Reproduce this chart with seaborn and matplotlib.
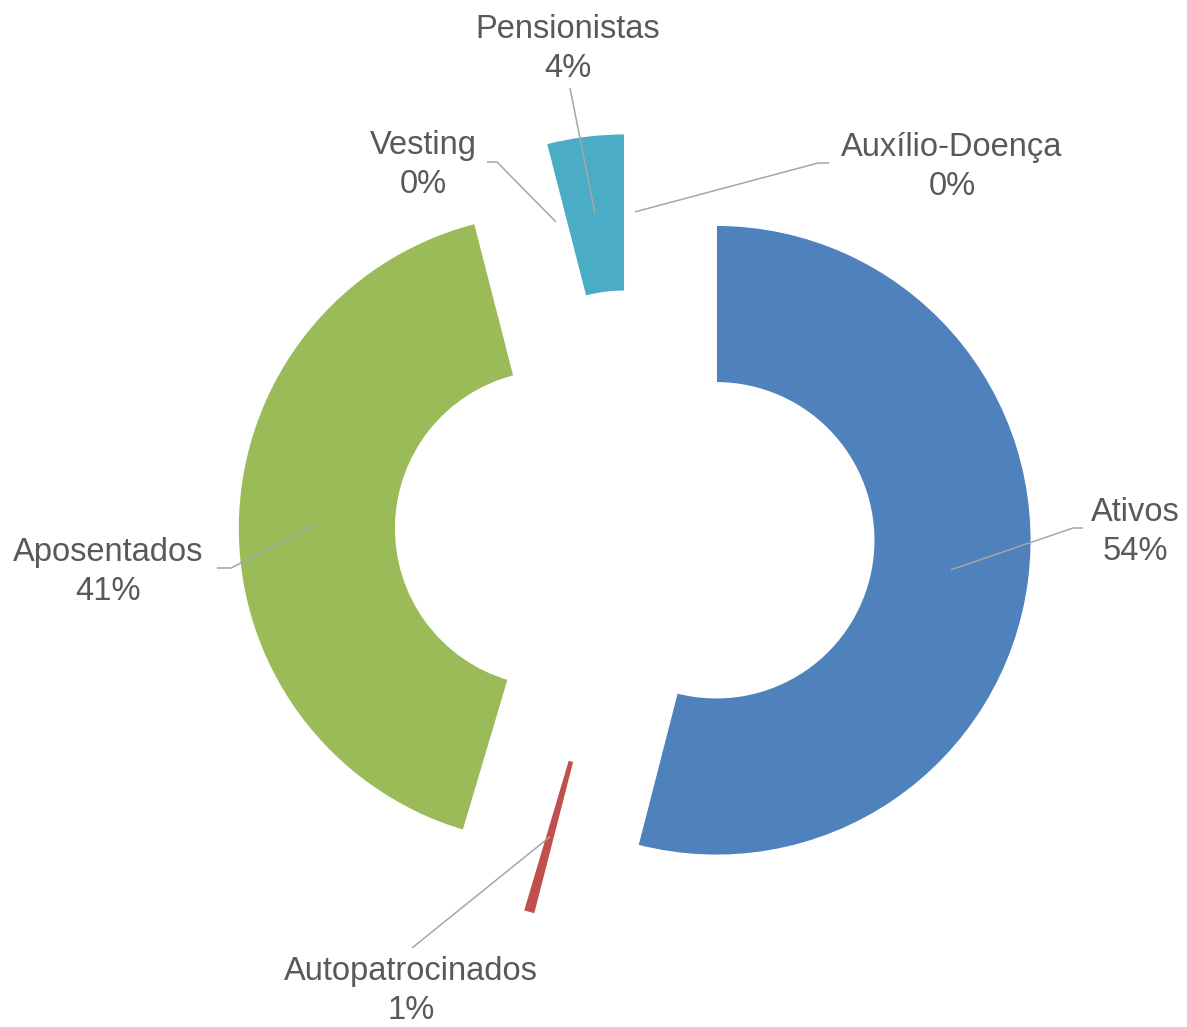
import matplotlib
matplotlib.use("Agg")
import matplotlib.pyplot as plt
import seaborn as sns
import numpy as np

# ---- data ----
categories = ["Ativos", "Autopatrocinados", "Aposentados", "Vesting", "Pensionistas", "Auxílio-Doença"]
values = [54.0, 0.6, 41.4, 0.0, 4.0, 0.0]
colors = ["#4F81BD", "#C0504D", "#9BBB59", "#8064A2", "#4BACC6", "#F79646"]

# ---- layout (pixel coordinates, y measured from top) ----
W, H = 1187, 1027
center_px = (635, 530)
radius_px = 315
explode_frac = 0.26
label_pos_px = {
    "Ativos": (1135, 532),
    "Autopatrocinados": (411, 991),
    "Aposentados": (108, 572),
    "Vesting": (423, 165),
    "Pensionistas": (568, 49),
    "Auxílio-Doença": (952, 167),
}
leader_px = {  # elbow and end of leader line
    "Ativos": [(1073, 528), (1083, 528)],
    "Autopatrocinados": [(412, 948)],
    "Aposentados": [(231, 568), (217, 568)],
    "Vesting": [(497, 162), (487, 162)],
    "Pensionistas": [(570, 88)],
    "Auxílio-Doença": [(818, 163), (829, 163)],
}

def p(pt):
    return (pt[0], H - pt[1])

sns.set_theme(style="white")
plt.rcParams["font.family"] = ["Liberation Sans", "DejaVu Sans"]

fig = plt.figure(figsize=(W / 100, H / 100), dpi=100)
ax = fig.add_axes([0, 0, 1, 1])

wedges, _ = ax.pie(
    values,
    colors=colors,
    startangle=90,
    counterclock=False,
    explode=[explode_frac * radius_px] * len(values),
    radius=radius_px,
    center=p(center_px),
    wedgeprops=dict(width=radius_px * 0.5, edgecolor="white", linewidth=1),
    frame=True,
)
ax.set_xlim(0, W)
ax.set_ylim(0, H)
ax.set_aspect("equal")
ax.axis("off")

total = sum(values)
text_color = "#595959"
line_color = "#A6A6A6"
for w, cat, v in zip(wedges, categories, values):
    ang = np.deg2rad((w.theta1 + w.theta2) / 2)
    cx, cy = w.center
    r = w.r - w.width / 2
    start = (cx + r * np.cos(ang), cy + r * np.sin(ang))
    pts = [start] + [p(q) for q in leader_px[cat]]
    xs, ys = zip(*pts)
    ax.plot(xs, ys, color=line_color, lw=1.1, solid_capstyle="butt", zorder=3)
    lx, ly = p(label_pos_px[cat])
    ax.text(lx, ly, f"{cat}\n{v / total * 100:.0f}%", ha="center", va="center",
            fontsize=23.5, color=text_color, linespacing=1.37)

fig.savefig("out.png", dpi=100, facecolor="white")
